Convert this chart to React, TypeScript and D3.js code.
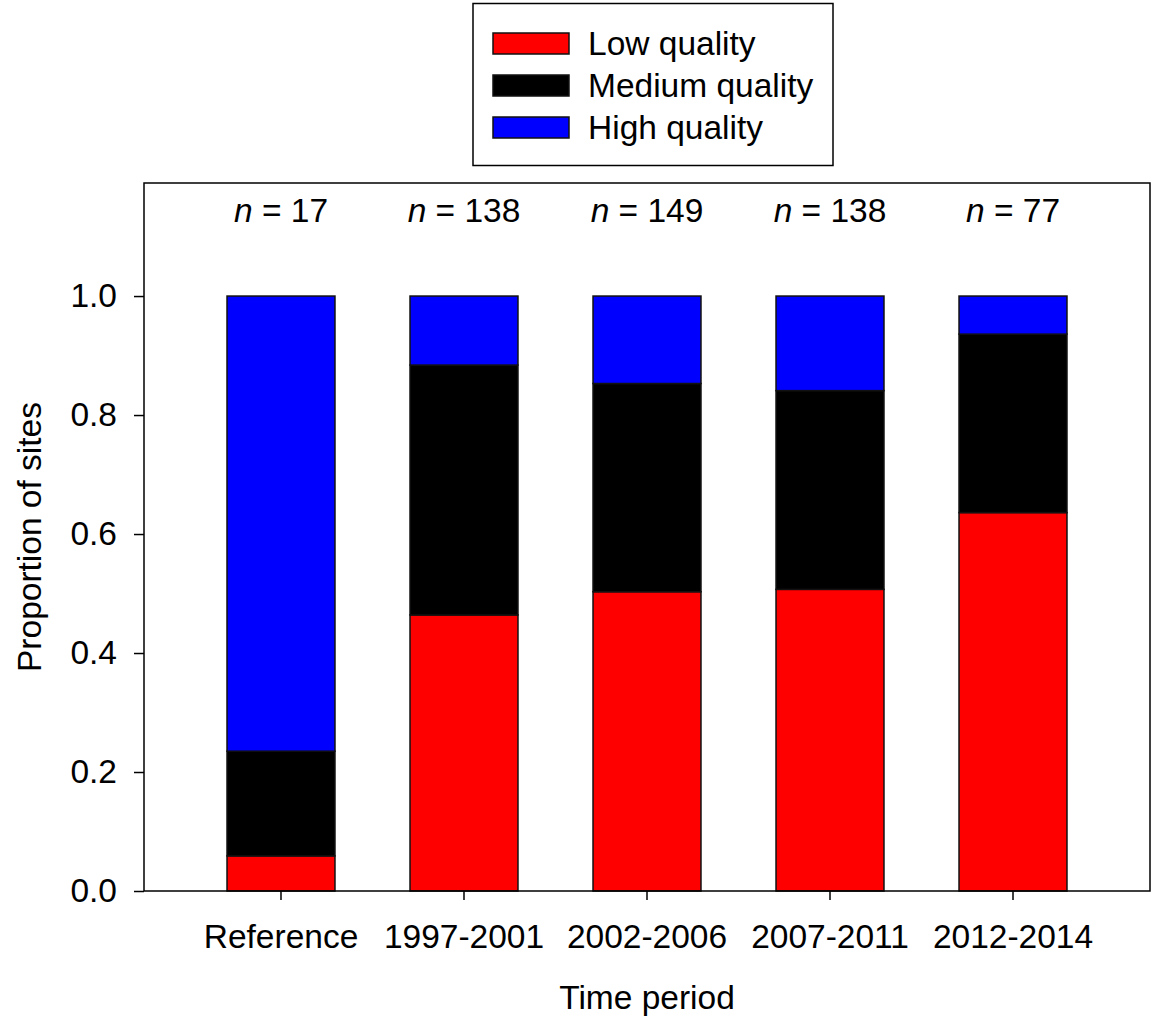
import { useEffect, useRef } from 'react';
import * as d3 from 'd3';

const periods = ['Reference', '1997-2001', '2002-2006', '2007-2011', '2012-2014'];
const sampleSizes = [17, 138, 149, 138, 77];
const lowQuality = [0.059, 0.464, 0.503, 0.507, 0.636];
const mediumQuality = [0.176, 0.42, 0.35, 0.334, 0.3];
const highQuality = [0.765, 0.116, 0.147, 0.159, 0.064];
const yTicks = [0, 0.2, 0.4, 0.6, 0.8, 1.0];

const seriesKeys = ['low', 'medium', 'high'];
const seriesLabels = ['Low quality', 'Medium quality', 'High quality'];
const seriesColors = ['#ff0000', '#000000', '#0000ff'];

const width = 1153;
const height = 1022;
const margin = { top: 183, right: 3, bottom: 131, left: 144 };
const font = '"Liberation Sans", Arial, sans-serif';
const fontSize = 33.5;

export default function App() {
  const svgRef = useRef<SVGSVGElement>(null);

  useEffect(() => {
    document.body.style.margin = '0';
    if (!svgRef.current) return;
    const svg = d3.select(svgRef.current);
    svg.selectAll('*').remove();

    const innerWidth = width - margin.left - margin.right;
    const innerHeight = height - margin.top - margin.bottom;

    const rows = periods.map((p, i) => ({
      period: p,
      low: lowQuality[i],
      medium: mediumQuality[i],
      high: highQuality[i],
    }));

    const x = d3.scaleBand<string>()
      .domain(periods)
      .range([0, innerWidth])
      .paddingInner(0.41)
      .paddingOuter(0.4536);

    const y = d3.scaleLinear()
      .domain([0, 1.19])
      .range([innerHeight, 0]);

    const stacked = d3.stack<any>().keys(seriesKeys)(rows);

    const g = svg.append('g')
      .attr('transform', `translate(${margin.left},${margin.top})`);

    // bars
    stacked.forEach((layer, li) => {
      g.append('g')
        .selectAll('rect')
        .data(layer)
        .join('rect')
        .attr('x', d => x(d.data.period) ?? 0)
        .attr('y', d => y(d[1]))
        .attr('width', x.bandwidth())
        .attr('height', d => y(d[0]) - y(d[1]))
        .attr('fill', seriesColors[li])
        .attr('stroke', '#111')
        .attr('stroke-width', 1.5);
    });

    // frame
    g.append('rect')
      .attr('x', 0)
      .attr('y', 0)
      .attr('width', innerWidth)
      .attr('height', innerHeight)
      .attr('fill', 'none')
      .attr('stroke', '#000')
      .attr('stroke-width', 1.5);

    // y axis
    const yAxis = g.append('g')
      .call(d3.axisLeft(y).tickValues(yTicks).tickSize(10).tickPadding(17).tickFormat(d3.format('.1f')));
    yAxis.select('.domain').remove();
    yAxis.selectAll('line').attr('stroke', '#000').attr('stroke-width', 1.5);
    yAxis.selectAll('text')
      .attr('font-family', font)
      .attr('font-size', fontSize)
      .attr('fill', '#000');

    // x axis
    const xAxis = g.append('g')
      .attr('transform', `translate(0,${innerHeight})`)
      .call(d3.axisBottom(x).tickSize(9).tickPadding(24));
    xAxis.select('.domain').remove();
    xAxis.selectAll('line').attr('stroke', '#000').attr('stroke-width', 1.5);
    xAxis.selectAll('text')
      .attr('font-family', font)
      .attr('font-size', fontSize)
      .attr('fill', '#000');

    // n labels
    const nLabels = g.append('g')
      .selectAll('text')
      .data(periods)
      .join('text')
      .attr('x', d => (x(d) ?? 0) + x.bandwidth() / 2)
      .attr('y', 222 - margin.top)
      .attr('text-anchor', 'middle')
      .attr('font-family', font)
      .attr('font-size', fontSize)
      .attr('fill', '#000');
    nLabels.append('tspan').attr('font-style', 'italic').text('n');
    nLabels.append('tspan').text((d, i) => ` = ${sampleSizes[i]}`);

    // axis titles
    svg.append('text')
      .attr('x', margin.left + innerWidth / 2)
      .attr('y', 1009)
      .attr('text-anchor', 'middle')
      .attr('font-family', font)
      .attr('font-size', fontSize)
      .text('Time period');

    svg.append('text')
      .attr('transform', `translate(41,${margin.top + innerHeight / 2}) rotate(-90)`)
      .attr('text-anchor', 'middle')
      .attr('font-family', font)
      .attr('font-size', fontSize)
      .text('Proportion of sites');

    // legend
    const legend = svg.append('g');
    legend.append('rect')
      .attr('x', 473)
      .attr('y', 3.5)
      .attr('width', 360)
      .attr('height', 162)
      .attr('fill', '#fff')
      .attr('stroke', '#000')
      .attr('stroke-width', 1.5);

    seriesLabels.forEach((label, i) => {
      legend.append('rect')
        .attr('x', 493)
        .attr('y', 33 + i * 42)
        .attr('width', 76)
        .attr('height', 21)
        .attr('fill', seriesColors[i])
        .attr('stroke', '#111')
        .attr('stroke-width', 1.5);
      legend.append('text')
        .attr('x', 588)
        .attr('y', 55 + i * 42)
        .attr('font-family', font)
        .attr('font-size', fontSize)
        .text(label);
    });
  }, []);

  return <svg ref={svgRef} width={width} height={height} style={{ display: 'block', background: '#fff' }} />;
}
